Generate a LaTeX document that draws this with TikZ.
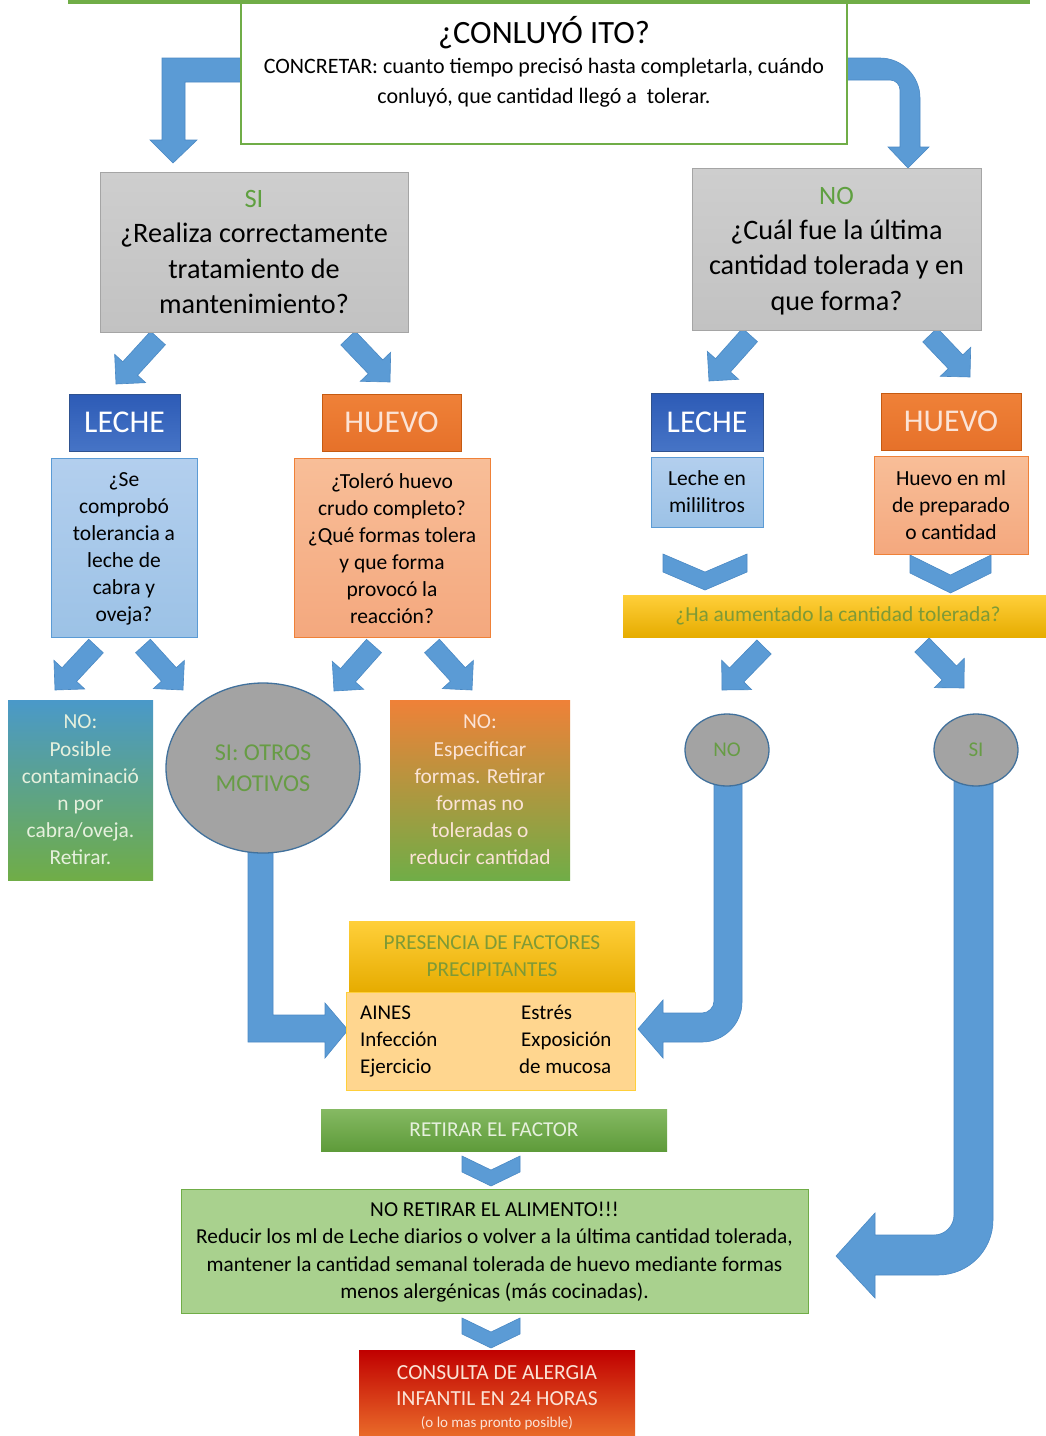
\documentclass[tikz,border=0pt]{standalone}
\usepackage{fontspec}
\setmainfont{Carlito}
\usetikzlibrary{calc,shapes.geometric}
\definecolor{ablue}{HTML}{5B9BD5}
\definecolor{aedge}{HTML}{4A89C4}
\definecolor{ogreen}{HTML}{70AD47}
\definecolor{dgreen}{HTML}{5E9B3A}
\definecolor{greyfill}{HTML}{C2C2C2}
\definecolor{greytop}{HTML}{CECECE}
\definecolor{greyedge}{HTML}{A5A5A5}
\definecolor{hblue1}{HTML}{2D5BB6}
\definecolor{hblue2}{HTML}{4674C6}
\definecolor{hblueedge}{HTML}{2F528F}
\definecolor{horange}{HTML}{EF8138}
\definecolor{horange2}{HTML}{E6712A}
\definecolor{horangeedge}{HTML}{C55A11}
\definecolor{lblue1}{HTML}{B3CFEE}
\definecolor{lblue2}{HTML}{9CC2E6}
\definecolor{lbedge}{HTML}{5B9BD5}
\definecolor{salmon1}{HTML}{F8BE98}
\definecolor{salmon2}{HTML}{F4A87E}
\definecolor{gold1}{HTML}{FFCF3A}
\definecolor{gold2}{HTML}{E6AC00}
\definecolor{olivetext}{HTML}{7E9A36}
\definecolor{tealtop}{HTML}{4A99C9}
\definecolor{ellfill}{HTML}{A3A3A3}
\definecolor{elledge}{HTML}{41719C}
\definecolor{elltext}{HTML}{679C45}
\definecolor{factbody}{HTML}{FFD68F}
\definecolor{lgreenfill}{HTML}{A9D18E}
\definecolor{paletext}{HTML}{E6F0DD}
\definecolor{red1}{HTML}{C00000}
\definecolor{orange3}{HTML}{F07C30}
\definecolor{pinktext}{HTML}{FBE3D6}
\definecolor{sitext}{HTML}{5FA040}
\newcommand{\fs}[2]{\fontsize{#1}{#2}\selectfont}
\tikzset{
  box/.style={rectangle, inner sep=0pt, align=center, line width=1pt},
  ablk/.style={fill=ablue, draw=aedge, line width=0.6pt, line join=miter},
  greybox/.style={box, top color=greytop, bottom color=greyfill, draw=greyedge},
  bluehead/.style={box, top color=hblue1, bottom color=hblue2, draw=hblueedge, text=white, font=\fs{31.7}{36}},
  orangehead/.style={box, top color=horange, bottom color=horange2, draw=horangeedge, text=pinktext, font=\fs{31.7}{36}},
  lbluebox/.style={box, top color=lblue1, bottom color=lblue2, draw=lbedge, font=\fs{21.5}{27}},
  salmonbox/.style={box, top color=salmon1, bottom color=salmon2, draw=horange, font=\fs{21.5}{27}},
  oval/.style={ellipse, inner sep=0pt, fill=ellfill, draw=elledge, line width=1.3pt, text=elltext, align=center},
}
% diagonal block arrow from #1 (tail centre) to #2 (tip)
\newcommand{\diagarrow}[2]{%
  \path ($(#2)!21pt!(#1)$) coordinate (neck);
  \filldraw[ablk] ($(#1)!10pt!90:(#2)$) -- ($(neck)!10pt!-90:(#1)$) -- ($(neck)!21pt!-90:(#1)$)
    -- (#2) -- ($(neck)!21pt!90:(#1)$) -- ($(neck)!10pt!90:(#1)$) -- ($(#1)!10pt!-90:(#2)$) -- cycle;}
% chevron: x1, x2, ytop, depth, thickness
\newcommand{\chevron}[5]{%
  \pgfmathsetmacro{\cx}{(#1+#2)/2}%
  \filldraw[ablk] (#1,#3) -- (\cx,#3+#4) -- (#2,#3) -- (#2,#3+#5) -- (\cx,#3+#4+#5) -- (#1,#3+#5) -- cycle;}
\begin{document}
\begin{tikzpicture}[x=1pt,y=-1pt]
\useasboundingbox (0,0) rectangle (1045,1436);
\fill[white] (0,0) rectangle (1045,1436);
% top green strip (bottom of a box above)
\fill[ogreen] (68,-5) rectangle (1030,4);

% ---------- bent arrows ----------
\filldraw[ablk] (242,58) -- (162,58) -- (162,140) -- (150,140) -- (173,163) -- (197,140)
  -- (185,140) -- (185,82) -- (242,82) -- cycle;
\filldraw[ablk] (846,58) -- (880,58) .. controls (902,58) and (920,76) .. (920,98) -- (920,147)
  -- (929,147) -- (908,168) -- (888,147) -- (900,147) -- (900,90)
  .. controls (900,84.5) and (895.5,80) .. (890,80) -- (846,80) -- cycle;
\filldraw[ablk] (248,840) -- (273,840) -- (273,1015) -- (325,1015) -- (325,1003) -- (348,1030)
  -- (325,1058) -- (325,1042) -- (248,1042) -- cycle;
\filldraw[ablk] (714,780) -- (742,780) -- (742,1002) .. controls (742,1024) and (724,1042) .. (702,1042)
  -- (663,1042) -- (663,1058) -- (638,1029) -- (663,1000) -- (663,1013) -- (702,1013)
  .. controls (708.6,1013) and (714,1007.6) .. (714,1001) -- cycle;
\filldraw[ablk] (954,780) -- (993,780) -- (993,1220) .. controls (993,1250.4) and (968.4,1275) .. (938,1275)
  -- (875,1275) -- (875,1298) -- (836,1256) -- (875,1213) -- (875,1235) -- (934,1235)
  .. controls (945,1235) and (954,1226) .. (954,1215) -- cycle;

% ---------- diagonal arrows ----------
\coordinate (d1s) at (158,338); \coordinate (d1e) at (116,384);
\coordinate (d2s) at (348,338); \coordinate (d2e) at (390,382);
\coordinate (d3s) at (750,335); \coordinate (d3e) at (709,381);
\coordinate (d4s) at (930,335); \coordinate (d4e) at (970,377);
\coordinate (d5s) at (96,646);  \coordinate (d5e) at (55,690);
\coordinate (d6s) at (143,646); \coordinate (d6e) at (183,690);
\coordinate (d7s) at (374,646); \coordinate (d7e) at (334,691);
\coordinate (d8s) at (432,646); \coordinate (d8e) at (472,690);
\coordinate (d9s) at (764,647); \coordinate (d9e) at (722,690);
\coordinate (d10s) at (922,645); \coordinate (d10e) at (964,688);
\diagarrow{d1s}{d1e}\diagarrow{d2s}{d2e}\diagarrow{d3s}{d3e}\diagarrow{d4s}{d4e}
\diagarrow{d5s}{d5e}\diagarrow{d6s}{d6e}\diagarrow{d7s}{d7e}\diagarrow{d8s}{d8e}
\diagarrow{d9s}{d9e}\diagarrow{d10s}{d10e}

% ---------- chevrons ----------
\chevron{663}{747}{554}{18}{18}
\chevron{910}{991}{555}{20}{18}
\chevron{462}{520}{1156}{14}{16}
\chevron{462}{520}{1318}{14}{16}

% ---------- top box ----------
\node[box, draw=ogreen, fill=white, line width=1.5pt, minimum width=606pt, minimum height=141pt] (top) at (544,73.5) {};
\node[anchor=base, inner sep=0pt, font=\fs{32.5}{36}] (toptitle) at (544,43) {¿CONLUYÓ ITO?};
\node[align=center, inner sep=0pt, font=\fs{22}{30}] (toptext) at (544,83) {CONCRETAR: cuanto tiempo precisó hasta completarla, cuándo\\conluyó, que cantidad llegó a\ \ tolerar.};

% ---------- SI / NO boxes ----------
\node[greybox, minimum width=308pt, minimum height=160pt, font=\fs{28.2}{35.3}] (si) at (254,252) {};
\node[align=center, inner sep=0pt, font=\fs{28.2}{35.3}] (sitext) at (254,252)
  {{\color{sitext}\fs{26.5}{35.3}SI}\\¿Realiza correctamente\\tratamiento de\\mantenimiento?};
\node[greybox, minimum width=289pt, minimum height=162pt] (no) at (836.5,249) {};
\node[align=center, inner sep=0pt, font=\fs{28.2}{35.3}] (notext) at (836.5,251)
  {{\color{sitext}\fs{26.5}{35.3}NO}\\¿Cuál fue la última\\cantidad tolerada y en\\que forma?};

% ---------- headers ----------
\node[bluehead, minimum width=111pt, minimum height=57pt] (lecheL) at (124.5,422.5) {LECHE};
\node[orangehead, minimum width=139pt, minimum height=57pt] (huevoL) at (391.5,422.5) {HUEVO};
\node[bluehead, minimum width=112pt, minimum height=58pt] (lecheR) at (707,422) {LECHE};
\node[orangehead, minimum width=140pt, minimum height=57pt] (huevoR) at (951,421.5) {HUEVO};

% ---------- question boxes ----------
\node[lbluebox, minimum width=146pt, minimum height=179pt] (qleche) at (124,547.5) {};
\node[align=center, inner sep=0pt, font=\fs{21.5}{27}] (qlechetext) at (124,549)
  {¿Se\\comprobó\\tolerancia a\\leche de\\cabra y\\oveja?};
\node[salmonbox, minimum width=196pt, minimum height=179pt] (qhuevo) at (392,547.5) {};
\node[align=center, inner sep=0pt, font=\fs{21.5}{27}] (qhuevotext) at (392,549)
  {¿Toleró huevo\\crudo completo?\\¿Qué formas tolera\\y que forma\\provocó la\\reacción?};
\node[lbluebox, minimum width=112pt, minimum height=70pt] (mleche) at (707,492)
  {Leche en\\mililitros};
\node[salmonbox, minimum width=154pt, minimum height=98pt] (mhuevo) at (951,505)
  {Huevo en ml\\de preparado\\o cantidad};

% ---------- yellow bar ----------
\node[box, top color=gold1, bottom color=gold2, draw=none, minimum width=430pt, minimum height=42pt,
  text=olivetext, font=\fs{21.4}{26}] (aument) at (838,616) {¿Ha aumentado la cantidad tolerada?};

% ---------- outcome boxes ----------
\node[box, top color=tealtop, bottom color=ogreen, draw=none, minimum width=145pt, minimum height=180pt,
  text=paletext, font=\fs{21.4}{27.2}] (nocabra) at (80.5,790)
  {NO:\\Posible\\contaminació\\n por\\cabra/oveja.\\Retirar.};
\node[box, top color=horange, bottom color=ogreen, draw=none, minimum width=180pt, minimum height=180pt,
  text=pinktext, font=\fs{21.4}{27.2}] (noformas) at (480,790)
  {NO:\\Especificar\\formas. Retirar\\formas no\\toleradas o\\reducir cantidad};
\node[oval, minimum width=194pt, minimum height=170pt, font=\fs{24.2}{31}] (otros) at (263,768) {SI: OTROS\\MOTIVOS};
\node[oval, minimum width=84pt, minimum height=72pt, font=\fs{21}{24}] (noc) at (727,750) {NO};
\node[oval, minimum width=84pt, minimum height=72pt, font=\fs{21}{24}] (sic) at (976,750) {SI};

% ---------- factors ----------
\node[box, top color=gold1, bottom color=gold2, draw=none, minimum width=286pt, minimum height=71pt,
  text=olivetext, font=\fs{21.3}{27}] (facth) at (492,956.5) {PRESENCIA DE FACTORES\\PRECIPITANTES};
\node[box, fill=factbody, draw=gold1, minimum width=289pt, minimum height=98pt] (factb) at (490.5,1041) {};
\node[anchor=west, align=left, inner sep=0pt, font=\fs{21}{27}] (facttext) at (360,1041)
  {\makebox[161pt][l]{AINES}Estrés\\\makebox[161pt][l]{Infección}Exposición\\\makebox[159pt][l]{Ejercicio}de mucosa};

% ---------- bottom ----------
\node[box, top color=ogreen!85!white, bottom color=dgreen, draw=none, minimum width=346pt, minimum height=42pt,
  text=paletext, font=\fs{21.2}{24}] (retirar) at (494,1130) {RETIRAR EL FACTOR};
\node[box, fill=lgreenfill, draw=ogreen, minimum width=627pt, minimum height=124pt] (noretirar) at (494.5,1251) {};
\node[align=center, inner sep=0pt, font=\fs{21.3}{27.4}] (noretirartext) at (494.5,1252)
  {NO RETIRAR EL ALIMENTO!!!\\Reducir los ml de Leche diarios o volver a la última cantidad tolerada,\\mantener la cantidad semanal tolerada de huevo mediante formas\\menos alergénicas (más cocinadas).};
\node[box, top color=red1, bottom color=orange3, draw=none, minimum width=276pt, minimum height=100pt] (consulta) at (497,1400) {};
\node[align=center, inner sep=0pt, text=pinktext, font=\fs{21.5}{26}] (consultatext) at (497,1398)
  {CONSULTA DE ALERGIA\\INFANTIL EN 24 HORAS\\[-4pt]{\fs{15}{18}\selectfont(o lo mas pronto posible)}};
\end{tikzpicture}
\end{document}
